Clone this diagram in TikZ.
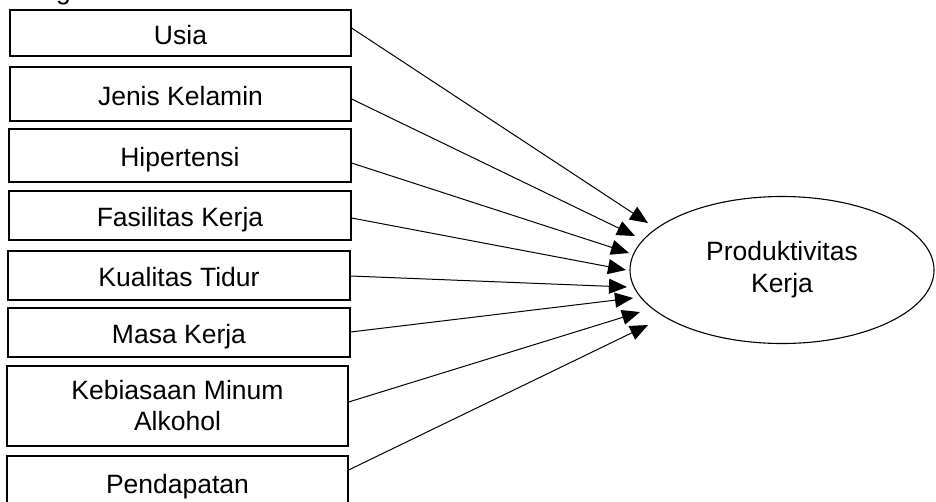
\documentclass[tikz,border=0pt]{standalone}
\usepackage{fontspec}
\setmainfont{Liberation Sans}
\usetikzlibrary{arrows.meta,shapes.geometric}
\begin{document}
\begin{tikzpicture}[x=1pt,y=-1pt,
  factor/.style={draw,line width=1.2pt,rectangle,inner sep=0pt,align=center,
    font=\fontsize{26.5}{31}\selectfont},
  oneline/.style={text height=22pt,text depth=0pt},
  outcome/.style={draw,line width=1.1pt,ellipse,inner sep=0pt,align=center,
    minimum width=304pt,minimum height=147pt,font=\fontsize{26.5}{32}\selectfont},
  link/.style={line width=1pt,-{Triangle[length=18pt,width=15pt]}}]
\useasboundingbox (0,0) rectangle (936,501);

% caption line above the boxes, mostly outside the page
\node[anchor=base,inner sep=0pt,font=\fontsize{26.5}{31}\selectfont] (cap) at (63.5,-1) {g};

% independent variables
\node[factor,oneline,minimum width=341pt,minimum height=46pt] (b1) at (180.5,33) {Usia};
\node[factor,oneline,minimum width=341pt,minimum height=54pt] (b2) at (180.5,94) {Jenis Kelamin};
\node[factor,oneline,minimum width=342pt,minimum height=53pt] (b3) at (180,155.5) {Hipertensi};
\node[factor,oneline,minimum width=342pt,minimum height=49pt] (b4) at (180,215.5) {Fasilitas Kerja};
\node[factor,oneline,minimum width=342pt,minimum height=49pt] (b5) at (179,275.5) {Kualitas Tidur};
\node[factor,oneline,minimum width=342pt,minimum height=49pt] (b6) at (179,332.5) {Masa Kerja};
\node[factor,minimum width=341pt,minimum height=80pt] (b7) at (177.5,406) {Kebiasaan Minum\\Alkohol};
\node[factor,oneline,minimum width=341pt,minimum height=52pt] (b8) at (177.5,482) {Pendapatan};

% dependent variable
\node[outcome] (y) at (782,270) {Produktivitas\\Kerja};

% arrow tips, short of the ellipse
\coordinate (t1) at (648,223);
\coordinate (t2) at (635,236);
\coordinate (t3) at (629,253);
\coordinate (t4) at (626,270);
\coordinate (t5) at (627,287);
\coordinate (t6) at (633,298);
\coordinate (t7) at (640,312);
\coordinate (t8) at (648,325);

\draw[link] ([yshift=5pt]b1.east) -- (t1);
\draw[link] ([yshift=-5pt]b2.east) -- (t2);
\draw[link] ([yshift=-7.5pt]b3.east) -- (t3);
\draw[link] ([yshift=-2.5pt]b4.east) -- (t4);
\draw[link] ([yshift=-0.5pt]b5.east) -- (t5);
\draw[link] ([yshift=0.5pt]b6.east) -- (t6);
\draw[link] ([yshift=4pt]b7.east) -- (t7);
\draw[link] ([yshift=12pt]b8.east) -- (t8);
\end{tikzpicture}
\end{document}
